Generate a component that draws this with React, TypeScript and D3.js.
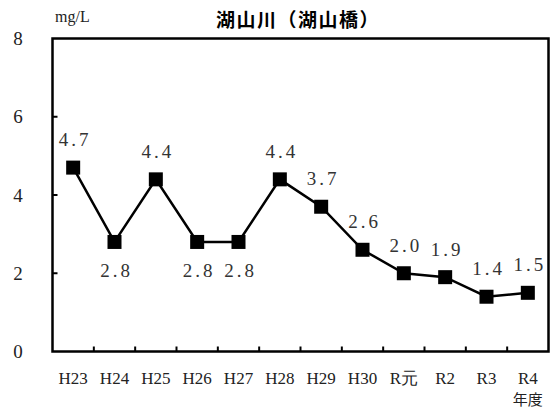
import { useEffect, useRef } from "react";
import * as d3 from "d3";

const years = ["H23", "H24", "H25", "H26", "H27", "H28", "H29", "H30", "R元", "R2", "R3", "R4"];
const values = [4.7, 2.8, 4.4, 2.8, 2.8, 4.4, 3.7, 2.6, 2.0, 1.9, 1.4, 1.5];
const labelSide = ["up", "down", "up", "down", "down", "up", "up", "up", "up", "up", "up", "up"];
const yTicks = [0, 2, 4, 6, 8];

const W = 557;
const H = 409;
const serif = "'Liberation Serif', 'Times New Roman', serif";

const App = () => {
  const svgRef = useRef<SVGSVGElement>(null);

  useEffect(() => {
    const svg = d3.select(svgRef.current);
    svg.selectAll("*").remove();

    const left = 52.5, right = 548.5, top = 38.5, bottom = 351.5;

    const x = d3.scaleBand().domain(years).range([left, right]).padding(0);
    const y = d3.scaleLinear().domain([0, 8]).range([bottom, top]);
    const cx = (d: string) => (x(d) as number) + x.bandwidth() / 2;

    // title and unit
    svg.append("text")
      .attr("x", 298).attr("y", 27)
      .attr("text-anchor", "middle")
      .style("font-family", "'Noto Sans CJK JP', sans-serif")
      .style("font-weight", "bold")
      .style("font-size", "19px")
      .style("letter-spacing", "1.5px")
      .text("湖山川（湖山橋）");

    svg.append("text")
      .attr("x", 55).attr("y", 22)
      .style("font-family", serif)
      .style("font-size", "16px")
      .style("fill", "#222")
      .text("mg/L");

    // y tick labels
    svg.selectAll(".ylab").data(yTicks).enter().append("text")
      .attr("x", 18).attr("y", d => y(d))
      .attr("dy", "0.35em")
      .attr("text-anchor", "middle")
      .style("font-family", serif)
      .style("font-size", "19px")
      .style("fill", "#222")
      .text(d => d);

    // inner y ticks
    svg.selectAll(".ytick").data(yTicks.slice(1, -1)).enter().append("line")
      .attr("x1", left).attr("x2", left + 5)
      .attr("y1", d => y(d)).attr("y2", d => y(d))
      .style("stroke", "#000").style("stroke-width", 2);

    // inner x ticks at category boundaries
    svg.selectAll(".xtick").data(years.slice(1)).enter().append("line")
      .attr("x1", d => x(d) as number).attr("x2", d => x(d) as number)
      .attr("y1", bottom).attr("y2", bottom - 5)
      .style("stroke", "#000").style("stroke-width", 2);

    // frame
    svg.append("rect")
      .attr("x", left).attr("y", top)
      .attr("width", right - left).attr("height", bottom - top)
      .style("fill", "none").style("stroke", "#000").style("stroke-width", 2.5);

    // x labels
    svg.selectAll(".xlab").data(years).enter().append("text")
      .attr("x", d => cx(d)).attr("y", 384)
      .attr("text-anchor", "middle")
      .style("font-family", serif)
      .style("font-size", "17px")
      .style("fill", "#222")
      .text(d => d);

    svg.append("text")
      .attr("x", cx("R4")).attr("y", 405)
      .attr("text-anchor", "middle")
      .style("font-family", "'Noto Sans CJK JP', serif")
      .style("font-size", "15px")
      .style("fill", "#222")
      .text("年度");

    // line
    const line = d3.line<number>()
      .x((d, i) => cx(years[i]))
      .y(d => y(d));

    svg.append("path")
      .datum(values)
      .attr("d", line)
      .style("fill", "none")
      .style("stroke", "#000")
      .style("stroke-width", 2.5);

    // markers
    svg.selectAll(".pt").data(values).enter().append("rect")
      .attr("x", (d, i) => cx(years[i]) - 7)
      .attr("y", d => y(d) - 7)
      .attr("width", 14).attr("height", 14)
      .style("fill", "#000");

    // value labels
    svg.selectAll(".val").data(values).enter().append("text")
      .attr("x", (d, i) => cx(years[i]) + 2)
      .attr("y", (d, i) => y(d) + (labelSide[i] === "up" ? -28 : 28))
      .attr("dy", "0.35em")
      .attr("text-anchor", "middle")
      .style("font-family", serif)
      .style("font-size", "19px")
      .style("letter-spacing", "3px")
      .style("fill", "#333")
      .text(d => d.toFixed(1));
  }, []);

  return (
    <svg ref={svgRef} width={W} height={H}
      style={{ position: "absolute", left: 0, top: 0, background: "#fff" }} />
  );
};

export default App;
